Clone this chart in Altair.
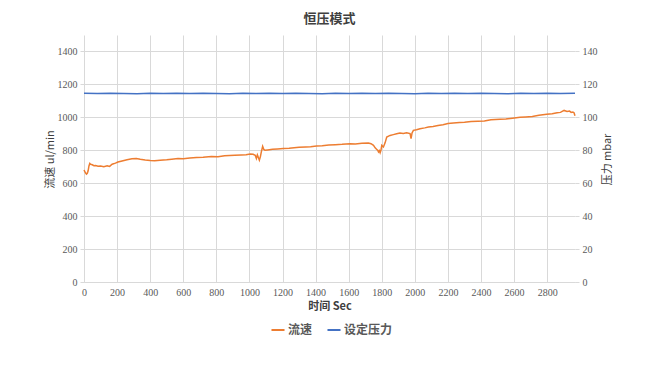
import altair as alt
import pandas as pd

title_text = "恒压模式"
series_names = ["流速", "设定压力"]
series_colors = ["#ED7D31", "#4472C4"]

flow_time = [0, 5, 10, 15, 20, 25, 30, 35, 40, 50, 60, 70, 85, 100, 120, 140, 155, 170, 190, 205,
             230, 260, 290, 316, 340, 370, 400, 427, 460, 500, 530, 568, 600, 640, 680, 720, 770, 810,
             850, 880, 911, 950, 980, 1004, 1022, 1035, 1042, 1048, 1054, 1060, 1066, 1072, 1080, 1087,
             1094, 1110, 1140, 1170, 1205, 1240, 1270, 1300, 1340, 1370, 1406, 1440, 1480, 1520, 1560,
             1608, 1640, 1680, 1719, 1735, 1750, 1760, 1770, 1775, 1780, 1785, 1790, 1795, 1800, 1810,
             1820, 1830, 1850, 1870, 1890, 1910, 1930, 1950, 1971, 1977, 1983, 1991, 2010, 2031, 2060,
             2082, 2110, 2140, 2170, 2200, 2233, 2270, 2300, 2340, 2380, 2420, 2460, 2515, 2550, 2590,
             2636, 2670, 2710, 2750, 2797, 2830, 2860, 2880, 2902, 2920, 2935, 2945, 2955, 2962, 2968]
flow_value = [680, 670, 662, 655, 660, 675, 705, 720, 715, 712, 706, 708, 703, 705, 700, 706, 702, 715, 722, 729,
              735, 742, 748, 750, 745, 741, 738, 736, 740, 742, 746, 750, 748, 753, 756, 758, 762, 760,
              766, 768, 770, 772, 773, 777, 776, 770, 750, 772, 756, 740, 760, 790, 824, 805,
              800, 802, 806, 808, 810, 812, 815, 818, 820, 822, 826, 828, 832, 834, 836,
              840, 838, 842, 844, 840, 830, 815, 805, 800, 790, 798, 785, 800, 830, 820,
              845, 880, 890, 895, 900, 905, 902, 906, 901, 871, 905, 921, 925, 931, 936,
              941, 945, 950, 955, 962, 966, 968, 970, 974, 976, 978, 985, 988, 990, 995,
              1000, 1002, 1005, 1012, 1018, 1022, 1028, 1030, 1042, 1036, 1038, 1030, 1032, 1028, 1010]

press_time = [0, 80, 160, 240, 320, 400, 480, 560, 640, 720, 800, 880, 960, 1040, 1120, 1200, 1280, 1360,
              1440, 1520, 1600, 1680, 1760, 1840, 1920, 2000, 2080, 2160, 2240, 2320, 2400, 2480, 2560,
              2640, 2720, 2800, 2880, 2968]
press_value = [114.6, 114.4, 114.7, 114.5, 114.3, 114.6, 114.5, 114.7, 114.4, 114.6, 114.5, 114.3, 114.6,
               114.5, 114.7, 114.4, 114.6, 114.5, 114.3, 114.6, 114.5, 114.7, 114.4, 114.6, 114.5, 114.3,
               114.6, 114.5, 114.7, 114.4, 114.6, 114.5, 114.3, 114.6, 114.5, 114.7, 114.4, 114.6]

x_ticks = list(range(0, 2801, 200))
left_ticks = list(range(0, 1401, 200))
right_ticks = list(range(0, 141, 20))

flow_df = pd.DataFrame({"t": flow_time, "v": flow_value})
press_df = pd.DataFrame({"t": press_time, "v": press_value})

grid = "#d9d9d9"
label_color = "#595959"
serif = "Liberation Serif"
cjk = "Noto Sans CJK SC"

color_scale = alt.Scale(domain=series_names, range=series_colors)

x_axis = alt.Axis(values=x_ticks, format="d", title="时间 Sec", titleFont=cjk, titleFontSize=11,
                  titleFontWeight="bold", titleColor="#404040", titlePadding=3,
                  labelFont=serif, labelFontSize=10, labelColor=label_color,
                  labelOverlap=False,
                  grid=True, gridColor=grid, domainColor=grid, tickColor=grid,
                  tickSize=0, labelPadding=5, labelFlush=False)
x_scale = alt.Scale(domain=[0, 2968], nice=False)

flow = alt.Chart(flow_df).mark_line(strokeWidth=1.5).encode(
    x=alt.X("t:Q", scale=x_scale, axis=x_axis),
    y=alt.Y("v:Q", scale=alt.Scale(domain=[0, 1500], nice=False),
            axis=alt.Axis(values=left_ticks, format="d", title="流速 ul/min", titleFont=cjk,
                          titleFontSize=11, titleFontWeight="normal", titleColor="#404040",
                          titleX=-34, titleY=124, titleAngle=270, titleAlign="center",
                          titleBaseline="middle",
                          labelFont=serif, labelFontSize=10, labelColor=label_color,
                          labelOverlap=False,
                          grid=True, gridColor=grid, domain=False, tickColor=grid, tickSize=4,
                          labelPadding=3)),
    color=alt.Color("s:N", scale=color_scale,
                    legend=alt.Legend(title=None, orient="none", direction="horizontal",
                                      legendX=186, legendY=287, symbolType="stroke",
                                      symbolSize=170, symbolStrokeWidth=2, labelFont=cjk,
                                      labelFontSize=12, labelFontWeight="bold",
                                      labelColor=label_color, labelOffset=2, columnPadding=10)),
).transform_calculate(s="'流速'")

press = alt.Chart(press_df).mark_line(strokeWidth=1.5).encode(
    x=alt.X("t:Q", scale=x_scale, axis=x_axis),
    y=alt.Y("v:Q", scale=alt.Scale(domain=[0, 150], nice=False),
            axis=alt.Axis(values=right_ticks, format="d", orient="right", title="压力 mbar", titleFont=cjk,
                          titleFontSize=11, titleFontWeight="normal", titleColor="#404040",
                          titleX=32, titleY=124, titleAngle=270, titleAlign="center",
                          titleBaseline="middle",
                          labelFont=serif, labelFontSize=10, labelColor=label_color,
                          labelOverlap=False,
                          grid=False, domain=False, tickColor=grid, tickSize=4, labelPadding=3)),
    color=alt.Color("s:N", scale=color_scale),
).transform_calculate(s="'设定压力'")

chart = alt.layer(flow, press).resolve_scale(y="independent").properties(
    width=491, height=247,
    title=alt.TitleParams(title_text, font=cjk, fontSize=13, fontWeight="bold", color="#404040",
                          anchor="middle", offset=9),
    autosize=alt.AutoSizeParams(type="none"),
    padding={"left": 76, "top": 27, "right": 60, "bottom": 80},
).configure_view(stroke=None)

chart.save("out.html", embed_options={"renderer": "svg", "actions": False})
